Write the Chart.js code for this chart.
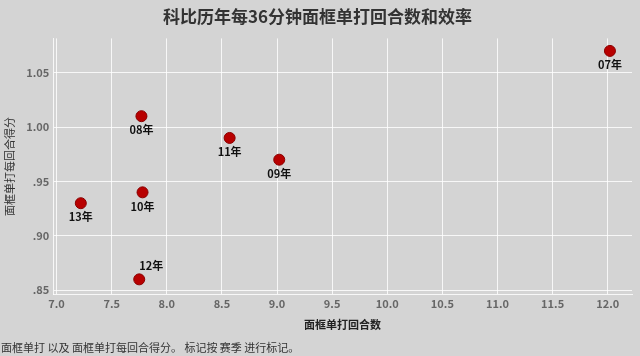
<!DOCTYPE html>
<html>
<head>
<meta charset="utf-8">
<script src="https://cdn.jsdelivr.net/npm/chart.js@4.4.1/dist/chart.umd.min.js"></script>
<style>
html,body{margin:0;padding:0;background:#d4d4d4;}
#wrap{position:relative;width:640px;height:356px;}
</style>
</head>
<body>
<div id="wrap"><canvas id="c" width="640" height="356"></canvas></div>
<script>
const seasons = ['07年','08年','09年','10年','11年','12年','13年'];
const possessions = [12.02, 7.77, 9.02, 7.78, 8.57, 7.75, 7.22];
const pointsPerPoss = [1.07, 1.01, 0.97, 0.94, 0.99, 0.86, 0.93];
const xTicks = [7.0, 7.5, 8.0, 8.5, 9.0, 9.5, 10.0, 10.5, 11.0, 11.5, 12.0];
const yTicks = ['.85', '.90', '.95', '1.00', '1.05'];
const labelAbove = ['12年'];

const CJK = '"Noto Sans CJK SC", "Noto Sans", sans-serif';

const bgPlugin = {
  id: 'bg',
  beforeDraw(chart) {
    const ctx = chart.ctx;
    ctx.save();
    ctx.fillStyle = '#d4d4d4';
    ctx.fillRect(0, 0, chart.width, chart.height);
    ctx.restore();
  }
};

const labelPlugin = {
  id: 'pointLabels',
  afterDatasetsDraw(chart) {
    const ctx = chart.ctx;
    const meta = chart.getDatasetMeta(0);
    ctx.save();
    ctx.font = 'bold 11px ' + CJK;
    ctx.fillStyle = '#111';
    ctx.textAlign = 'center';
    ctx.textBaseline = 'middle';
    meta.data.forEach((el, i) => {
      const lbl = seasons[i];
      if (labelAbove.includes(lbl)) {
        ctx.fillText(lbl, el.x + 12, el.y - 14);
      } else {
        ctx.fillText(lbl, el.x, el.y + 14);
      }
    });
    ctx.restore();
  }
};

const footPlugin = {
  id: 'foot',
  afterDraw(chart) {
    const ctx = chart.ctx;
    ctx.save();
    ctx.font = '11px ' + CJK;
    ctx.fillStyle = '#333';
    ctx.textAlign = 'left';
    ctx.textBaseline = 'middle';
    ctx.fillText('面框单打 以及 面框单打每回合得分。 标记按 赛季 进行标记。', 1, 348);
    ctx.restore();
  }
};

new Chart(document.getElementById('c'), {
  type: 'scatter',
  data: {
    datasets: [{
      data: possessions.map((x, i) => ({x: x, y: pointsPerPoss[i]})),
      backgroundColor: '#b80000',
      borderColor: '#8a0000',
      borderWidth: 1,
      pointRadius: 5.5,
      pointHoverRadius: 5.5
    }]
  },
  options: {
    responsive: false,
    animation: false,
    layout: {padding: {left: 3, right: 8, top: 0, bottom: 25}},
    plugins: {
      legend: {display: false},
      tooltip: {enabled: false},
      title: {
        display: true,
        text: '科比历年每36分钟面框单打回合数和效率',
        color: '#333',
        font: {family: CJK, size: 17, weight: 'bold'},
        padding: {top: 6, bottom: 12}
      }
    },
    scales: {
      x: {
        type: 'linear',
        min: 6.97,
        max: 12.22,
        afterBuildTicks(scale) { scale.ticks = xTicks.map(v => ({value: v})); },
        ticks: {
          includeBounds: false,
          color: '#666',
          font: {family: CJK, size: 11, weight: 'bold'},
          padding: 3,
          callback: v => Number(v).toFixed(1)
        },
        grid: {color: 'rgba(255,255,255,0.8)', lineWidth: 1, drawTicks: false},
        border: {display: true, color: 'rgba(255,255,255,0.8)'},
        title: {
          display: true,
          text: '面框单打回合数',
          color: '#222',
          font: {family: CJK, size: 11, weight: 'bold'},
          padding: {top: 4, bottom: 0}
        }
      },
      y: {
        type: 'linear',
        min: 0.846,
        max: 1.0815,
        afterBuildTicks(scale) { scale.ticks = yTicks.map(v => ({value: parseFloat(v)})); },
        ticks: {
          includeBounds: false,
          color: '#666',
          font: {family: CJK, size: 11, weight: 'bold'},
          padding: 4,
          callback: (v) => {
            const s = Number(v).toFixed(2);
            return s.startsWith('0') ? s.slice(1) : s;
          }
        },
        grid: {color: 'rgba(255,255,255,0.8)', lineWidth: 1, drawTicks: false},
        border: {display: true, color: 'rgba(255,255,255,0.8)'},
        title: {
          display: true,
          text: '面框单打每回合得分',
          color: '#333',
          font: {family: CJK, size: 11},
          padding: {top: 0, bottom: 6}
        }
      }
    }
  },
  plugins: [bgPlugin, labelPlugin, footPlugin]
});
</script>
</body>
</html>
